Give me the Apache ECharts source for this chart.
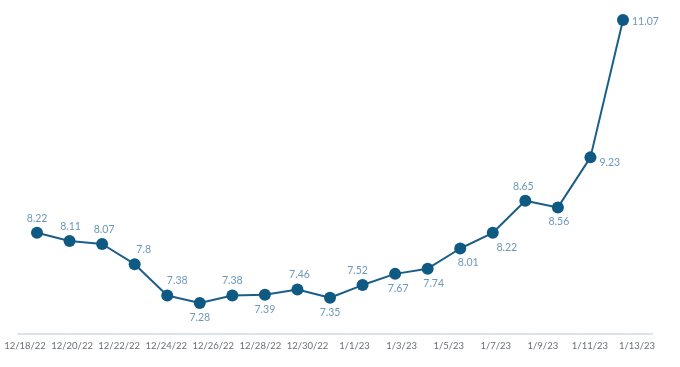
<!DOCTYPE html>
<html><head><meta charset="utf-8">
<script src="https://cdn.jsdelivr.net/npm/echarts@6/dist/echarts.min.js"></script>
<style>html,body{margin:0;padding:0;background:#fff}#c{width:680px;height:367px}</style>
</head><body><div id="c"></div>
<script>
const categories = ['p1','p2','p3','p4','p5','p6','p7','p8','p9','p10','p11','p12','p13','p14','p15','p16','p17','p18','p19'];
const values = [8.22, 8.11, 8.07, 7.8, 7.38, 7.28, 7.38, 7.39, 7.46, 7.35, 7.52, 7.67, 7.74, 8.01, 8.22, 8.65, 8.56, 9.23, 11.07];
const tickLabels = ['12/18/22','12/20/22','12/22/22','12/24/22','12/26/22','12/28/22','12/30/22','1/1/23','1/3/23','1/5/23','1/7/23','1/9/23','1/11/23','1/13/23'];
// label placement per point: [position, dx, dy]
const labelPlace = [
  ['top',0,0],['top',1,0],['top',2,0],['top',9,0],['top',10,0],['bottom',0,0],['top',0,0],['bottom',0,0],['top',2,0],['bottom',0,0],
  ['top',-5,0],['bottom',3,0],['bottom',6,0],['bottom',8,0],['bottom',14,0],['top',-2,0],['bottom',1,0],['right',0,5],['right',0,2]
];
const chart = echarts.init(document.getElementById('c'), null, {renderer:'canvas'});
const font = 'Lato, "Noto Sans", sans-serif';
chart.setOption({
  animation:false,
  grid:[
    {left:37, right:57, top:25.2, bottom:43.1},
    {left:18, right:28, top:25, bottom:33},
    {left:25, right:43, top:25, bottom:33}
  ],
  xAxis:[
    {gridIndex:0, type:'category', data:categories, boundaryGap:false, show:false},
    {gridIndex:1, type:'value', min:0, max:13.49, interval:1,
      axisLine:{show:true, lineStyle:{color:'#dbe3e9', width:2}},
      axisTick:{show:true, inside:true, length:2, lineStyle:{color:'#eef2f5'}},
      axisLabel:{show:false}, splitLine:{show:false}},
    {gridIndex:2, type:'category', data:tickLabels, boundaryGap:false,
      axisLine:{show:false}, axisTick:{show:false},
      axisLabel:{show:true, interval:0, color:'#6a6f76', fontSize:9.5, fontFamily:font, margin:7}}
  ],
  yAxis:[
    {gridIndex:0, type:'value', min:7, max:11, show:false},
    {gridIndex:1, type:'value', show:false},
    {gridIndex:2, type:'value', show:false}
  ],
  series:[{
    type:'line', xAxisIndex:0, yAxisIndex:0, clip:false,
    data: values.map((v,i)=>({value:v, label:{position:labelPlace[i][0], offset:[labelPlace[i][1],labelPlace[i][2]]}})),
    symbol:'circle', symbolSize:12,
    lineStyle:{color:'#1b5f88', width:2},
    itemStyle:{color:'#0e5a82', borderWidth:0},
    label:{show:true, color:'#6c98b8', fontSize:10.5, fontFamily:font, distance:3},
    z:5
  }]
});
</script></body></html>
